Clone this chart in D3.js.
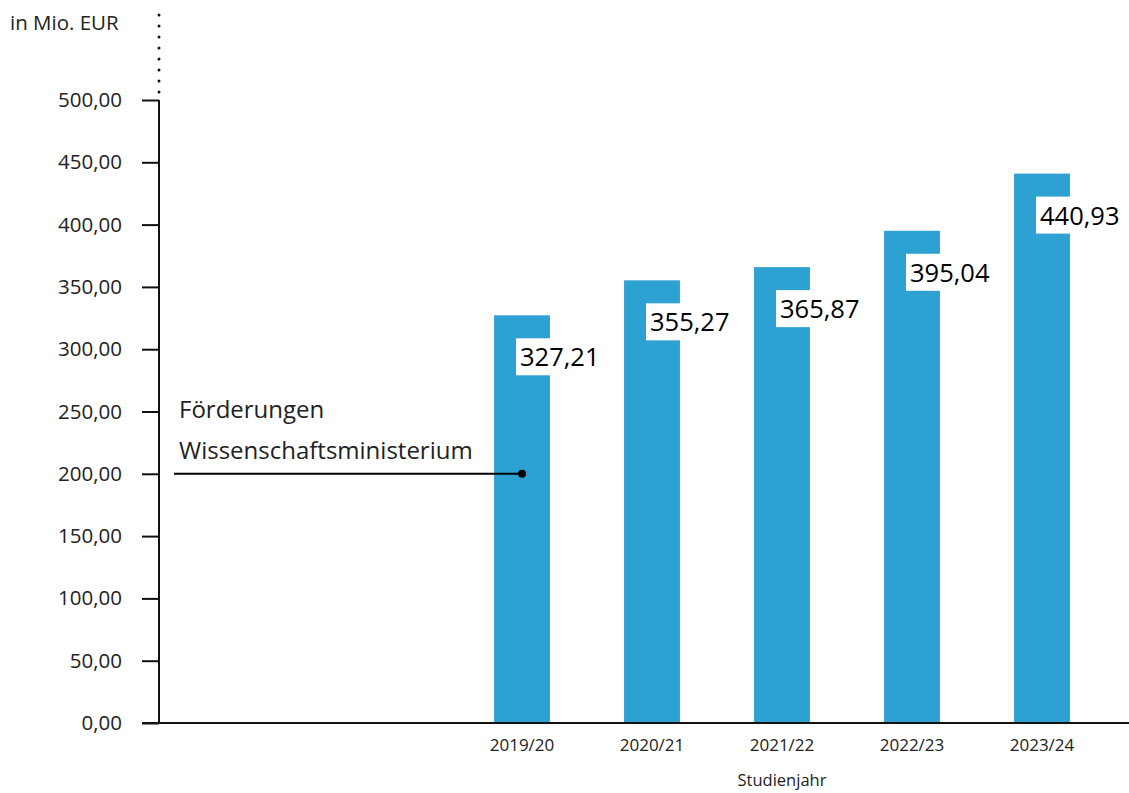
<!DOCTYPE html>
<html>
<head>
<meta charset="utf-8">
<script src="https://cdn.jsdelivr.net/npm/d3@7"></script>
<style>
  body { margin: 0; background: #fff; }
  svg { font-family: "Open Sans", "Noto Sans", sans-serif; }
  .axis text { fill: #222; font-family: "Open Sans", "Noto Sans", sans-serif; }
  .y.axis text { font-size: 20.5px; }
  .x.axis text { font-size: 17px; }
  .axis path, .axis line { stroke: #111; stroke-width: 2; }
</style>
</head>
<body>
<script>
var years = ["2019/20", "2020/21", "2021/22", "2022/23", "2023/24"];
var values = [327.21, 355.27, 365.87, 395.04, 440.93];
var yTicks = [0, 50, 100, 150, 200, 250, 300, 350, 400, 450, 500];
var seriesName = ["Förderungen", "Wissenschaftsministerium"];

var width = 1129, height = 793;

var svg = d3.select("body").append("svg")
    .attr("width", width)
    .attr("height", height);

var fmt = function(d) { return d3.format(".2f")(d).replace(".", ","); };

var x = d3.scaleBand()
    .domain(years)
    .range([457, 1107])
    .paddingInner(0.57)
    .paddingOuter(0.285);

var y = d3.scaleLinear()
    .domain([0, 500])
    .range([723, 100]);

// bars
svg.selectAll("rect.bar")
    .data(values)
    .enter().append("rect")
    .attr("class", "bar")
    .attr("x", function(d, i) { return x(years[i]); })
    .attr("y", function(d) { return y(d); })
    .attr("width", x.bandwidth())
    .attr("height", function(d) { return y(0) - y(d); })
    .attr("fill", "#2ea1d3");

// y axis
var yAxis = svg.append("g")
    .attr("class", "y axis")
    .attr("transform", "translate(159,0)")
    .call(d3.axisLeft(y)
        .tickValues(yTicks)
        .tickFormat(fmt)
        .tickSize(17)
        .tickSizeOuter(0)
        .tickPadding(20));
yAxis.select(".domain").attr("d", "M0," + y(500) + "V" + y(0));

// dotted continuation
svg.append("line")
    .attr("x1", 159).attr("x2", 159)
    .attr("y1", 15).attr("y2", y(500) - 6)
    .attr("stroke", "#111")
    .attr("stroke-width", 3)
    .attr("stroke-linecap", "round")
    .attr("stroke-dasharray", "0,11");

// x axis
var xAxis = svg.append("g")
    .attr("class", "x axis")
    .attr("transform", "translate(0," + y(0) + ")")
    .call(d3.axisBottom(x).tickSize(0).tickPadding(16));
xAxis.select(".domain").attr("d", "M142,0H1129");

svg.append("text")
    .attr("x", 10).attr("y", 30)
    .attr("font-size", 20.5)
    .attr("fill", "#222")
    .text("in Mio. EUR");

svg.append("text")
    .attr("x", x(years[2]) + x.bandwidth() / 2)
    .attr("y", 786)
    .attr("text-anchor", "middle")
    .attr("font-size", 16.5)
    .attr("fill", "#222")
    .text("Studienjahr");

// value labels
var labels = svg.selectAll("g.label")
    .data(values)
    .enter().append("g")
    .attr("class", "label")
    .attr("transform", function(d, i) {
        return "translate(" + (x(years[i]) + x.bandwidth() / 2 - 6) + "," + (y(d) + 23) + ")";
    });
labels.append("rect")
    .attr("fill", "#fff")
    .attr("height", 37);
labels.append("text")
    .attr("x", 4)
    .attr("y", 28)
    .attr("font-size", 25.5)
    .attr("fill", "#000")
    .text(fmt);
labels.each(function() {
    var g = d3.select(this);
    var w = g.select("text").node().getComputedTextLength();
    g.select("rect").attr("width", w + 7);
});

// series annotation
var annY = y(200);
var annX = x(years[0]) + x.bandwidth() / 2;
svg.append("text")
    .attr("x", 179).attr("y", 418)
    .attr("font-size", 24)
    .attr("fill", "#222")
    .text(seriesName[0]);
svg.append("text")
    .attr("x", 179).attr("y", 459)
    .attr("font-size", 24)
    .attr("fill", "#222")
    .text(seriesName[1]);
svg.append("line")
    .attr("x1", 174).attr("x2", annX)
    .attr("y1", annY).attr("y2", annY)
    .attr("stroke", "#000")
    .attr("stroke-width", 2);
svg.append("circle")
    .attr("cx", annX).attr("cy", annY)
    .attr("r", 4)
    .attr("fill", "#000");
</script>
</body>
</html>
